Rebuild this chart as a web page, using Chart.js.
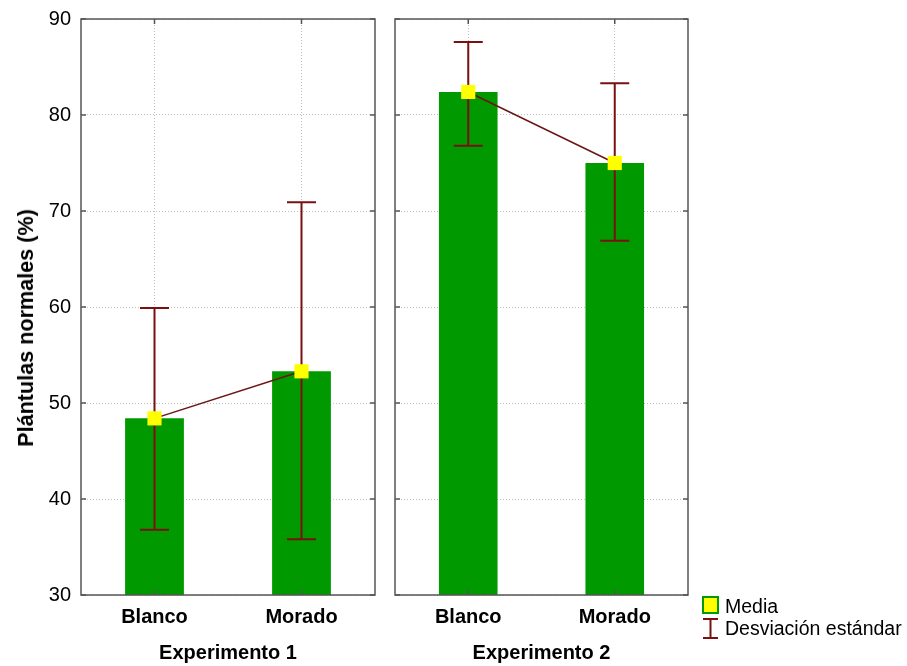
<!DOCTYPE html>
<html>
<head>
<meta charset="utf-8">
<script src="https://cdn.jsdelivr.net/npm/chart.js@4.4.0/dist/chart.umd.min.js"></script>
<style>
    html, body { margin: 0; padding: 0; background: #fff; }
    #wrap { position: relative; width: 907px; height: 666px; overflow: hidden; }
    #c1 { position: absolute; left: 0; top: 0; }
    #c2 { position: absolute; left: 380px; top: 0; }
    #ytitle {
        position: absolute; left: 26px; top: 328px;
        transform: translate(-50%, -50%) rotate(-90deg);
        font: bold 21.6px 'Liberation Sans', Arial, sans-serif;
        white-space: nowrap; color: #000;
    }
</style>
</head>
<body>
<div id="wrap">
    <canvas id="c1" width="385" height="666" style="width:385px;height:666px"></canvas>
    <canvas id="c2" width="527" height="666" style="width:527px;height:666px"></canvas>
    <div id="ytitle">Plántulas normales (%)</div>
</div>
<script>
    var categories = ['Blanco', 'Morado'];
    var exp1Mean = [48.4, 53.3];
    var exp1Low  = [36.8, 35.8];
    var exp1High = [59.9, 70.9];
    var exp2Mean = [82.4, 75.0];
    var exp2Low  = [76.8, 66.9];
    var exp2High = [87.6, 83.3];
    var yMin = 30, yMax = 90, yStep = 10;
    var legendLabels = ['Media', 'Desviación estándar'];

    var GREEN = '#009a00', YELLOW = '#ffff00', RED = '#7a1010', FRAME = '#555';
    Chart.defaults.font.family = "'Liberation Sans', Arial, sans-serif";

    // error bars drawn right after the bars, under the mean line
    var errorBars = {
        id: 'errorBars',
        afterDatasetDraw: function (chart, args, opts) {
            if (args.meta.type !== 'bar') return;
            var ctx = chart.ctx, x = chart.scales.x, y = chart.scales.y;
            ctx.save();
            ctx.strokeStyle = RED;
            ctx.lineWidth = 2;
            opts.low.forEach(function (lo, i) {
                var px = x.getPixelForValue(i);
                var pl = y.getPixelForValue(lo);
                var ph = y.getPixelForValue(opts.high[i]);
                ctx.beginPath();
                ctx.moveTo(px, ph); ctx.lineTo(px, pl);
                ctx.moveTo(px - 14.5, ph); ctx.lineTo(px + 14.5, ph);
                ctx.moveTo(px - 14.5, pl); ctx.lineTo(px + 14.5, pl);
                ctx.stroke();
            });
            ctx.restore();
        }
    };

    // box round the plot with small inward ticks
    var frame = {
        id: 'frame',
        afterDatasetsDraw: function (chart) {
            var ctx = chart.ctx, a = chart.chartArea, x = chart.scales.x, y = chart.scales.y;
            ctx.save();
            ctx.strokeStyle = FRAME;
            ctx.lineWidth = 1.5;
            ctx.strokeRect(a.left, a.top, a.right - a.left, a.bottom - a.top);
            ctx.beginPath();
            y.ticks.forEach(function (t) {
                var py = y.getPixelForValue(t.value);
                ctx.moveTo(a.left, py); ctx.lineTo(a.left + 5, py);
                ctx.moveTo(a.right, py); ctx.lineTo(a.right - 5, py);
            });
            categories.forEach(function (c, i) {
                var px = x.getPixelForValue(i);
                ctx.moveTo(px, a.top); ctx.lineTo(px, a.top + 5);
                ctx.moveTo(px, a.bottom); ctx.lineTo(px, a.bottom - 5);
            });
            ctx.stroke();
            ctx.restore();
        }
    };

    var legendBox = {
        id: 'legendBox',
        afterDraw: function (chart, args, opts) {
            if (!opts.show) return;
            var ctx = chart.ctx, lx = 323;
            ctx.save();
            ctx.fillStyle = YELLOW;
            ctx.fillRect(lx, 597, 15, 16);
            ctx.strokeStyle = GREEN;
            ctx.lineWidth = 2;
            ctx.strokeRect(lx, 597, 15, 16);
            ctx.strokeStyle = RED;
            ctx.lineWidth = 2;
            ctx.beginPath();
            ctx.moveTo(lx + 7.5, 619); ctx.lineTo(lx + 7.5, 638);
            ctx.moveTo(lx, 619); ctx.lineTo(lx + 15, 619);
            ctx.moveTo(lx, 638); ctx.lineTo(lx + 15, 638);
            ctx.stroke();
            ctx.fillStyle = '#000';
            ctx.font = "19.5px 'Liberation Sans', Arial, sans-serif";
            ctx.textBaseline = 'alphabetic';
            ctx.fillText(legendLabels[0], 345, 613);
            ctx.fillText(legendLabels[1], 345, 635);
            ctx.restore();
        }
    };

    function makeChart(id, means, lows, highs, title, first) {
        return new Chart(document.getElementById(id), {
            type: 'bar',
            data: {
                labels: categories,
                datasets: [
                    {
                        type: 'line', data: means, order: 1,
                        borderColor: '#6b1515', borderWidth: 1.5,
                        pointStyle: 'rect', pointRadius: 10, pointHoverRadius: 10,
                        pointBackgroundColor: YELLOW, pointBorderWidth: 0
                    },
                    {
                        type: 'bar', data: means, order: 2,
                        backgroundColor: GREEN, barPercentage: 0.4, categoryPercentage: 1.0
                    }
                ]
            },
            options: {
                responsive: false,
                animation: false,
                events: [],
                layout: { padding: first ? { left: 0, right: 5, top: 19, bottom: 0 } : { left: 15, right: 219, top: 19, bottom: 0 } },
                plugins: {
                    legend: { display: false },
                    tooltip: { enabled: false },
                    errorBars: { low: lows, high: highs },
                    legendBox: { show: !first }
                },
                scales: {
                    x: {
                        offset: true,
                        grid: { offset: false, color: '#c0c0c0', drawTicks: false },
                        border: { display: false, dash: [1, 2] },
                        ticks: { color: '#000', padding: 10, font: { size: 20, weight: 'bold' } },
                        title: { display: true, text: title, color: '#000', padding: { top: 0, bottom: 1 }, font: { size: 20, weight: 'bold' } },
                        afterFit: function (s) { s.height = 71; s.paddingLeft = 0; s.paddingRight = 0; }
                    },
                    y: {
                        min: yMin, max: yMax,
                        grid: { color: '#c0c0c0', drawTicks: false },
                        border: { display: false, dash: [1, 2] },
                        ticks: { display: first, stepSize: yStep, color: '#000', padding: 10, font: { size: 20 } },
                        afterFit: function (s) { s.width = first ? 81 : 0; s.paddingTop = 0; s.paddingBottom = 0; }
                    }
                }
            },
            plugins: [errorBars, frame, legendBox]
        });
    }

    makeChart('c1', exp1Mean, exp1Low, exp1High, 'Experimento 1', true);
    makeChart('c2', exp2Mean, exp2Low, exp2High, 'Experimento 2', false);
</script>
</body>
</html>
